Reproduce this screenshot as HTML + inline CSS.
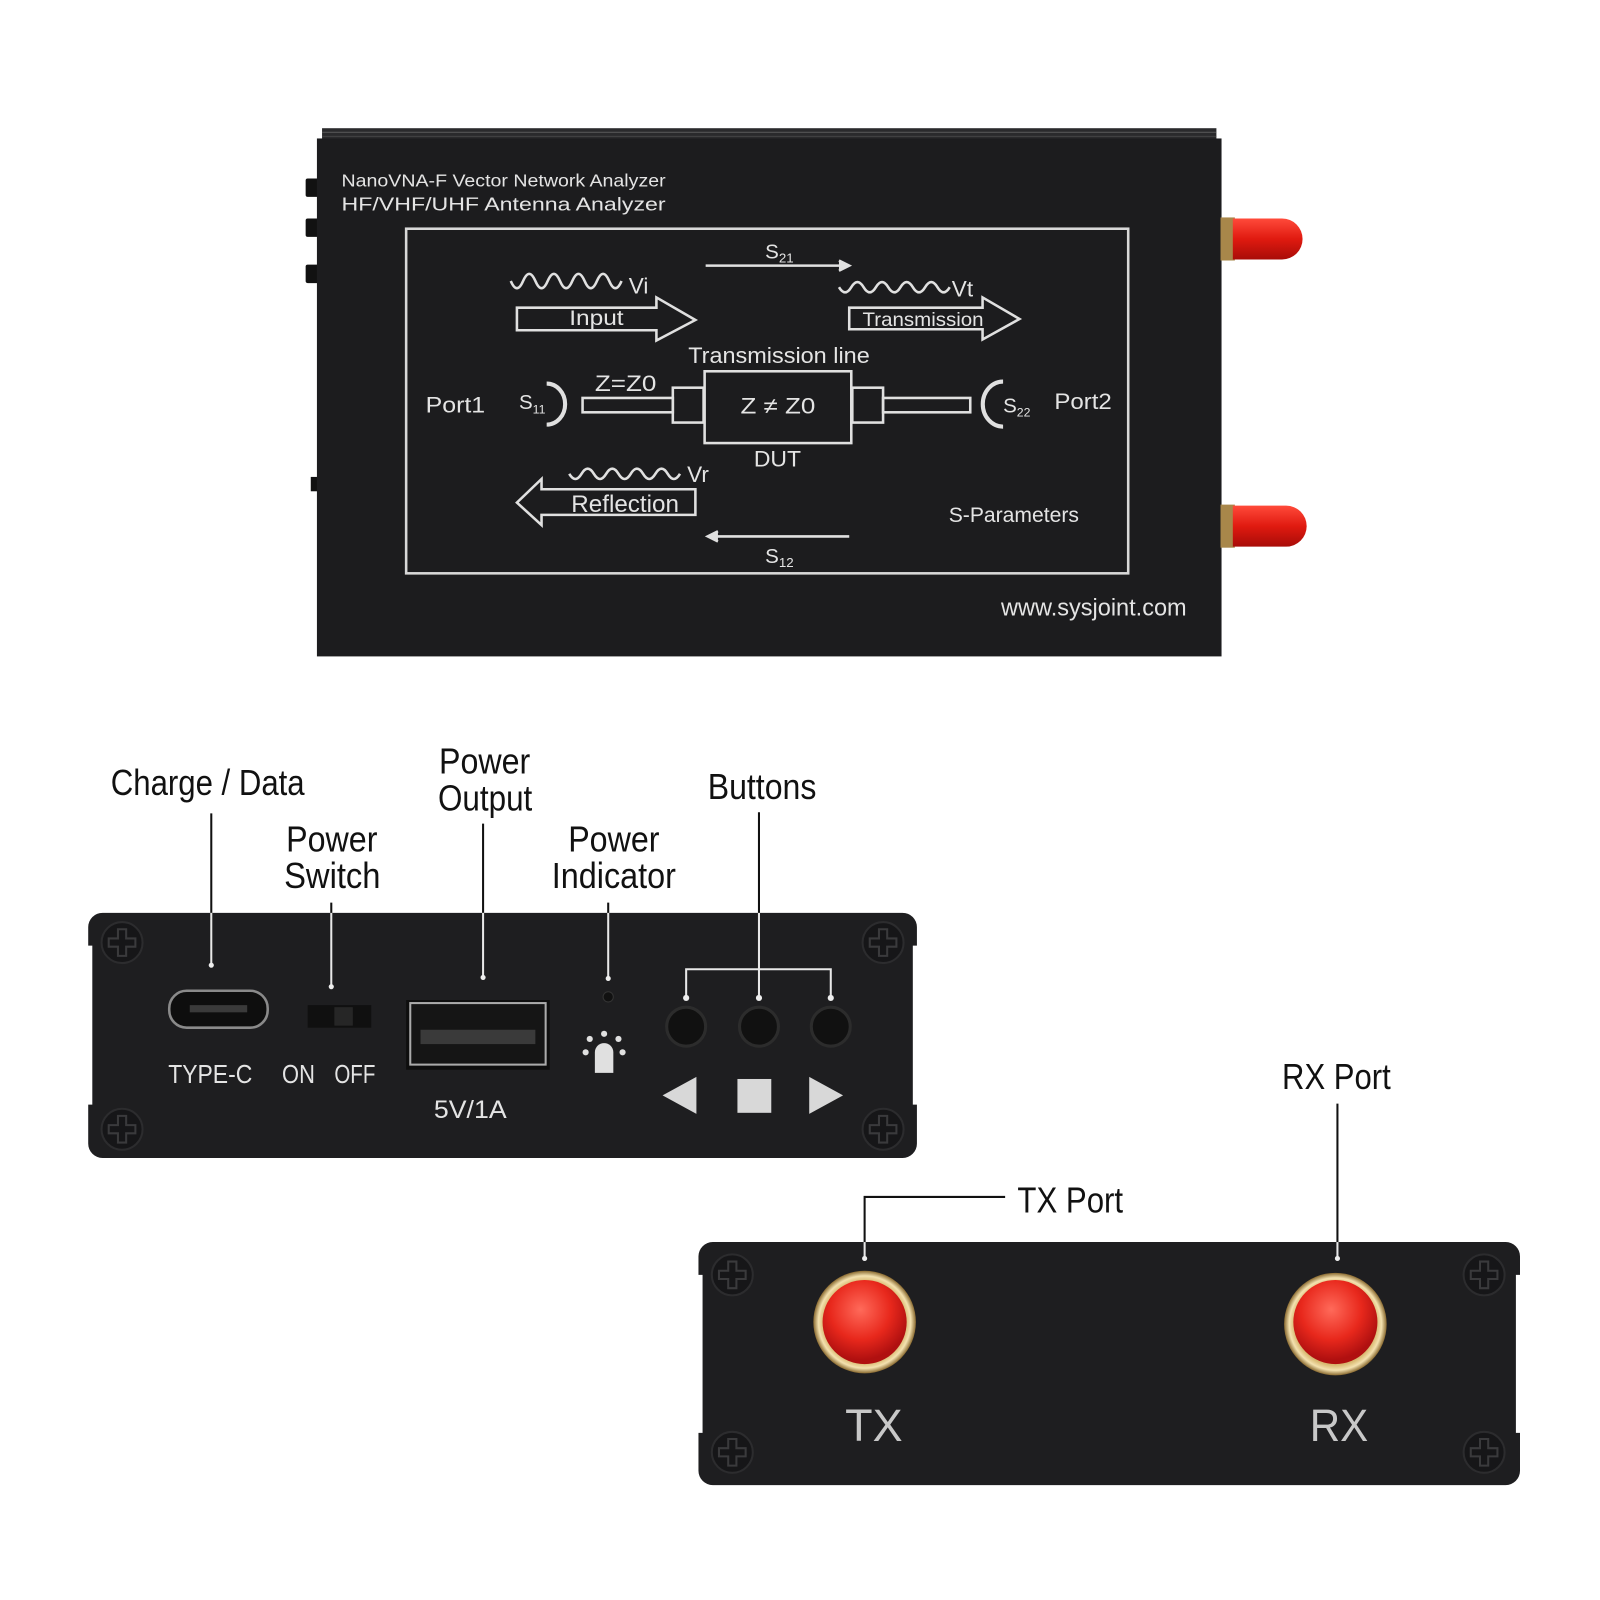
<!DOCTYPE html>
<html><head><meta charset="utf-8"><style>
html,body{margin:0;padding:0;background:#fff;width:1600px;height:1600px;overflow:hidden}
svg{display:block}
.lb{font-family:"Liberation Sans Narrow","Liberation Sans",sans-serif;font-size:35px;fill:#111}
.w{font-family:"Liberation Sans Narrow","Liberation Sans",sans-serif;fill:#e4e4e4}
.ws{font-family:"Liberation Sans",sans-serif;fill:#e4e4e4}
</style></head><body>
<svg width="1600" height="1600" viewBox="0 0 1560 1560" xmlns="http://www.w3.org/2000/svg">
<defs>
<radialGradient id="red" cx="0.45" cy="0.35" r="0.6"><stop offset="0" stop-color="#ff6a5a"/><stop offset="0.6" stop-color="#e8281c"/><stop offset="1" stop-color="#b01010"/></radialGradient>
<linearGradient id="redh" x1="0" y1="0" x2="0" y2="1"><stop offset="0" stop-color="#ff4a3a"/><stop offset="0.5" stop-color="#e01a10"/><stop offset="1" stop-color="#a80c08"/></linearGradient>
<radialGradient id="gold" cx="0.5" cy="0.5" r="0.5"><stop offset="0.8" stop-color="#d8b870"/><stop offset="0.9" stop-color="#f4e2b0"/><stop offset="1" stop-color="#8a6a30"/></radialGradient>
<g id="screw"><circle r="20" fill="#161618" stroke="#2c2c2e" stroke-width="2"/><path d="M-4,-13h8v9h9v8h-9v9h-8v-9h-9v-8h9z" fill="none" stroke="#3a3a3c" stroke-width="2"/></g>
</defs>

<!-- TOP DEVICE -->
<rect x="298" y="174" width="14" height="18" fill="#111" rx="2"/>
<rect x="298" y="213" width="14" height="18" fill="#111" rx="2"/>
<rect x="298" y="258" width="14" height="18" fill="#111" rx="2"/>
<rect x="303" y="465" width="8" height="14" fill="#111"/>
<rect x="314" y="125" width="872" height="12" fill="#2a2a2c"/>
<line x1="314" y1="129" x2="1186" y2="129" stroke="#555" stroke-width="1"/>
<line x1="314" y1="133" x2="1186" y2="133" stroke="#444" stroke-width="1"/>
<rect x="309" y="135" width="882" height="505" fill="#1c1c1e"/>
<rect x="1190" y="212" width="14" height="42" fill="#a8874a"/>
<path d="M1202,213 h48 a20,20 0 0 1 0,40 h-48z" fill="url(#redh)"/>
<rect x="1190" y="492" width="14" height="42" fill="#a8874a"/>
<path d="M1202,493 h52 a20,20 0 0 1 0,40 h-52z" fill="url(#redh)"/>

<text x="333" y="182" class="ws" font-size="17" textLength="316" lengthAdjust="spacingAndGlyphs">NanoVNA-F Vector Network Analyzer</text>
<text x="333" y="205" class="ws" font-size="18" textLength="316" lengthAdjust="spacingAndGlyphs">HF/VHF/UHF Antenna Analyzer</text>
<rect x="396" y="223" width="704" height="336" fill="none" stroke="#d8d8d8" stroke-width="2.5"/>
<g stroke="#e0e0e0" fill="none" stroke-width="2.5">
<line x1="688" y1="259" x2="826" y2="259"/><path d="M818,254 l10,5 l-10,5" fill="#e0e0e0"/>
<line x1="692" y1="523" x2="828" y2="523"/><path d="M700,518 l-10,5 l10,5" fill="#e0e0e0"/>
<path d="M504,300 h136 v-10 l38,22 l-38,20 v-10 h-136z"/>
<path d="M828,300 h130 v-10 l36,21 l-36,20 v-10 h-130z"/>
<path d="M678,477 h-150 v-10 l-24,23 l24,22 v-10 h150z"/>
<path d="M498,274 q6,14 12,0 t12,0 t12,0 t12,0 t12,0 t12,0 t12,0 t12,0 t12,0"/>
<path d="M818,280 q6,10 12,0 t12,0 t12,0 t12,0 t12,0 t12,0 t12,0 t12,0 t12,0"/>
<path d="M555,462 q6,10 12,0 t12,0 t12,0 t12,0 t12,0 t12,0 t12,0 t12,0 t12,0"/>
<rect x="568" y="388" width="88" height="14"/>
<rect x="656" y="378" width="30" height="34"/>
<rect x="687" y="362" width="143" height="70"/>
<rect x="831" y="378" width="30" height="34"/>
<rect x="861" y="388" width="85" height="14"/>
<path d="M533,374 a18,20 0 0 1 0,40" stroke-width="4"/>
<path d="M978,372 a18,20 0 0 0 0,44" stroke-width="4"/>
</g>
<g class="w">
<text x="746" y="252" font-size="20">S<tspan font-size="13" dy="4">21</tspan></text>
<text x="746" y="549" font-size="20">S<tspan font-size="13" dy="4">12</tspan></text>
<text x="613" y="286" font-size="22">Vi</text>
<text x="928" y="289" font-size="22">Vt</text>
<text x="670" y="470" font-size="22">Vr</text>
<text x="555" y="317" font-size="21" textLength="53" lengthAdjust="spacingAndGlyphs">Input</text>
<text x="841" y="318" font-size="19" textLength="118" lengthAdjust="spacingAndGlyphs">Transmission</text>
<text x="557" y="499" font-size="23" textLength="105" lengthAdjust="spacingAndGlyphs">Reflection</text>
<text x="671" y="354" font-size="22" textLength="177" lengthAdjust="spacingAndGlyphs">Transmission line</text>
<text x="580" y="381" font-size="22" textLength="60" lengthAdjust="spacingAndGlyphs">Z=Z0</text>
<text x="722" y="403" font-size="22" textLength="73" lengthAdjust="spacingAndGlyphs">Z ≠ Z0</text>
<text x="735" y="455" font-size="22" textLength="46" lengthAdjust="spacingAndGlyphs">DUT</text>
<text x="415" y="402" font-size="22" textLength="58" lengthAdjust="spacingAndGlyphs">Port1</text>
<text x="1028" y="399" font-size="22" textLength="56" lengthAdjust="spacingAndGlyphs">Port2</text>
<text x="506" y="399" font-size="20">S<tspan font-size="12" dy="4">11</tspan></text>
<text x="978" y="402" font-size="20">S<tspan font-size="12" dy="4">22</tspan></text>
<text x="925" y="509" font-size="21" textLength="127" lengthAdjust="spacingAndGlyphs">S-Parameters</text>
<text x="976" y="600" font-size="23" textLength="181" lengthAdjust="spacingAndGlyphs">www.sysjoint.com</text>
</g>

<!-- FRONT PANEL -->
<g class="lb">
<text x="108" y="775" textLength="189" lengthAdjust="spacingAndGlyphs">Charge / Data</text>
<text x="279" y="830" textLength="89" lengthAdjust="spacingAndGlyphs">Power</text><text x="277" y="866" textLength="94" lengthAdjust="spacingAndGlyphs">Switch</text>
<text x="428" y="754" textLength="89" lengthAdjust="spacingAndGlyphs">Power</text><text x="427" y="790" textLength="92" lengthAdjust="spacingAndGlyphs">Output</text>
<text x="554" y="830" textLength="89" lengthAdjust="spacingAndGlyphs">Power</text><text x="538" y="866" textLength="121" lengthAdjust="spacingAndGlyphs">Indicator</text>
<text x="690" y="779" textLength="106" lengthAdjust="spacingAndGlyphs">Buttons</text>
<text x="1250" y="1062" textLength="106" lengthAdjust="spacingAndGlyphs">RX Port</text>
<text x="992" y="1182" textLength="103" lengthAdjust="spacingAndGlyphs">TX Port</text>
</g>
<path d="M100,890 H880 a14,14 0 0 1 14,14 v18 h-4 v155 h4 v38 a14,14 0 0 1 -14,14 H100 a14,14 0 0 1 -14,-14 v-38 h4 v-155 h-4 v-18 a14,14 0 0 1 14,-14z" fill="#1e1e20"/>
<use href="#screw" x="119" y="919"/><use href="#screw" x="861" y="919"/>
<use href="#screw" x="119" y="1101"/><use href="#screw" x="861" y="1101"/>
<g stroke="#111" stroke-width="2" fill="none">
<line x1="206" y1="793" x2="206" y2="940"/>
<line x1="323" y1="880" x2="323" y2="960"/>
<line x1="471" y1="803" x2="471" y2="952"/>
<line x1="593" y1="880" x2="593" y2="953"/>
<line x1="740" y1="792" x2="740" y2="945"/>
</g>
<g stroke="#e8e8e8" stroke-width="2" fill="none"><path d="M669,972 V945 H810 V972"/><line x1="740" y1="890" x2="740" y2="972"/>
<line x1="206" y1="890" x2="206" y2="940"/><line x1="323" y1="890" x2="323" y2="962"/><line x1="471" y1="890" x2="471" y2="952"/><line x1="593" y1="890" x2="593" y2="953"/></g>
<g fill="#eee"><circle cx="206" cy="941" r="2.5"/><circle cx="323" cy="962" r="2.5"/><circle cx="471" cy="953" r="2.5"/><circle cx="593" cy="954" r="2.5"/><circle cx="669" cy="973" r="3"/><circle cx="740" cy="973" r="3"/><circle cx="810" cy="973" r="3"/></g>
<rect x="165" y="966" width="96" height="36" rx="17" fill="#0e0e0e" stroke="#8a8a8a" stroke-width="2.5"/>
<rect x="185" y="980" width="56" height="7" fill="#3a3a3a"/>
<rect x="300" y="980" width="62" height="22" fill="#101010"/><rect x="326" y="982" width="18" height="18" fill="#262626"/>
<rect x="396" y="975" width="140" height="68" fill="#0e0e0e"/>
<rect x="400" y="978" width="132" height="60" fill="#151515" stroke="#aaa" stroke-width="2"/>
<rect x="410" y="1004" width="112" height="14" fill="#3a3a3a"/>
<circle cx="593" cy="972" r="5" fill="#111" stroke="#333"/>
<g fill="#e0e0e0"><path d="M580,1046 v-20 a9,9 0 0 1 18,0 v20z"/><circle cx="589" cy="1008" r="3"/><circle cx="575" cy="1013" r="3"/><circle cx="603" cy="1013" r="3"/><circle cx="571" cy="1026" r="3"/><circle cx="607" cy="1026" r="3"/></g>
<g fill="#111" stroke="#2c2c2c" stroke-width="3"><circle cx="669" cy="1001" r="19"/><circle cx="740" cy="1001" r="19"/><circle cx="810" cy="1001" r="19"/></g>
<g fill="#d8d8d8"><path d="M646,1068 l33,-18 v36z"/><rect x="719" y="1052" width="33" height="33"/><path d="M822,1068 l-33,-18 v36z"/></g>
<g class="w" font-size="25"><text x="164" y="1056" textLength="82" lengthAdjust="spacingAndGlyphs">TYPE-C</text><text x="275" y="1056" textLength="32" lengthAdjust="spacingAndGlyphs">ON</text><text x="326" y="1056" textLength="40" lengthAdjust="spacingAndGlyphs">OFF</text><text x="423" y="1090" font-size="24" textLength="71" lengthAdjust="spacingAndGlyphs">5V/1A</text></g>

<!-- BACK PANEL -->
<g stroke="#111" stroke-width="2" fill="none"><path d="M980,1167 H843 V1215"/><line x1="1304" y1="1076" x2="1304" y2="1215"/></g>
<path d="M695,1211 H1468 a14,14 0 0 1 14,14 v18 h-4 v154 h4 v37 a14,14 0 0 1 -14,14 H695 a14,14 0 0 1 -14,-14 v-37 h4 v-154 h-4 v-18 a14,14 0 0 1 14,-14z" fill="#1e1e20"/>
<g stroke="#e8e8e8" stroke-width="2"><line x1="843" y1="1211" x2="843" y2="1226"/><line x1="1304" y1="1211" x2="1304" y2="1226"/></g>
<circle cx="843" cy="1227" r="2.5" fill="#eee"/><circle cx="1304" cy="1227" r="2.5" fill="#eee"/>
<use href="#screw" x="714" y="1243"/><use href="#screw" x="1447" y="1243"/>
<use href="#screw" x="714" y="1416"/><use href="#screw" x="1447" y="1416"/>
<circle cx="843" cy="1289" r="50" fill="url(#gold)"/><circle cx="843" cy="1289" r="41" fill="url(#red)"/>
<circle cx="1302" cy="1291" r="50" fill="url(#gold)"/><circle cx="1302" cy="1289" r="41" fill="url(#red)"/>
<g font-family="Liberation Sans,sans-serif" font-size="44" fill="#c8c8c8"><text x="824" y="1405" textLength="56" lengthAdjust="spacingAndGlyphs">TX</text><text x="1277" y="1405" textLength="57" lengthAdjust="spacingAndGlyphs">RX</text></g>
</svg>
</body></html>
